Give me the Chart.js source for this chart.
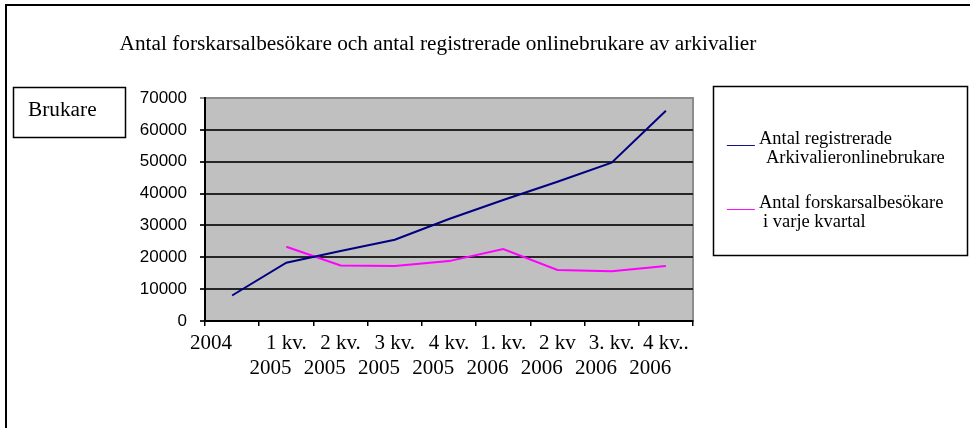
<!DOCTYPE html>
<html>
<head>
<meta charset="utf-8">
<script src="https://cdn.jsdelivr.net/npm/chart.js@4.4.1/dist/chart.umd.min.js"></script>
<style>
  html, body { margin: 0; padding: 0; background: #fff; }
  #wrap { width: 970px; height: 428px; }
</style>
</head>
<body>
<div id="wrap"><canvas id="chart" width="970" height="428"></canvas></div>
<script>
const quarters = ["2004", "1 kv.", "2 kv.", "3 kv.", "4 kv.", "1. kv.", "2 kv", "3. kv.", "4 kv.."];
const years = ["", "2005", "2005", "2005", "2005", "2006", "2006", "2006", "2006"];
const onlineUsers = [8000, 18300, 22000, 25500, 32000, 38000, 43700, 49700, 66000];
const visitors = [null, 23300, 17400, 17300, 18800, 22600, 16000, 15600, 17300];
const yTicks = [0, 10000, 20000, 30000, 40000, 50000, 60000, 70000];

const titleText = "Antal forskarsalbesökare och antal registrerade onlinebrukare av arkivalier";
const axisTitle = "Brukare";
const onlineLegend = ["Antal registrerade", "Arkivalieronlinebrukare"];
const visitorLegend = ["Antal forskarsalbesökare", "i varje kvartal"];

const SERIF = "'Liberation Serif', 'Times New Roman', serif";
const SANS = "'Liberation Sans', Arial, sans-serif";

// page frame, title, "Brukare" box, plot background and the legend box
const decor = {
  id: "decor",
  beforeDraw(chart) {
    const { ctx, chartArea: a } = chart;
    ctx.save();
    ctx.fillStyle = "#c0c0c0";
    ctx.fillRect(a.left, a.top, a.right - a.left, a.bottom - a.top);
    ctx.strokeStyle = "#8c8c8c";
    ctx.lineWidth = 2;
    ctx.strokeRect(a.left, a.top, a.right - a.left, a.bottom - a.top);

    ctx.strokeStyle = "#000";
    ctx.lineWidth = 2;
    ctx.beginPath();
    ctx.moveTo(6, 428);
    ctx.lineTo(6, 5);
    ctx.lineTo(970, 5);
    ctx.stroke();

    ctx.fillStyle = "#000";
    ctx.font = "21.3px " + SERIF;
    ctx.textAlign = "center";
    ctx.textBaseline = "middle";
    ctx.fillText(titleText, 438, 44);

    ctx.lineWidth = 1.5;
    ctx.strokeRect(13.5, 87.5, 112, 50);
    ctx.textAlign = "left";
    ctx.fillText(axisTitle, 28, 110);

    ctx.strokeRect(713.5, 86.5, 254, 169);
    ctx.font = "18.5px " + SERIF;
    ctx.textBaseline = "alphabetic";
    const rows = [144, 208];
    chart.data.datasets.forEach((ds, i) => {
      const y = rows[i];
      ctx.fillStyle = ds.borderColor;
      ctx.fillText("___", 727, y);
      ctx.fillStyle = "#000";
      ctx.fillText(ds.legendLines[0], 759, y);
      ctx.fillText(ds.legendLines[1], i === 0 ? 766 : 763, y + 19);
    });
    ctx.restore();
  }
};

new Chart(document.getElementById("chart"), {
  type: "line",
  data: {
    labels: quarters.map((q, i) => (years[i] ? [q, years[i]] : [q])),
    datasets: [
      {
        label: onlineLegend.join(" "),
        legendLines: onlineLegend,
        data: onlineUsers,
        borderColor: "#000080",
        borderWidth: 2,
        pointRadius: 0,
        tension: 0
      },
      {
        label: visitorLegend.join(" "),
        legendLines: visitorLegend,
        data: visitors,
        borderColor: "#ff00ff",
        borderWidth: 2,
        pointRadius: 0,
        tension: 0
      }
    ]
  },
  options: {
    responsive: false,
    animation: false,
    layout: { padding: { top: 98, right: 277, bottom: 47, left: 0 } },
    plugins: { legend: { display: false }, title: { display: false }, tooltip: { enabled: false } },
    scales: {
      x: {
        offset: true,
        afterFit: (s) => { s.height = 60; },
        grid: { offset: true, drawOnChartArea: false, drawTicks: true, tickLength: 5, color: "#000", lineWidth: 1.5 },
        border: { color: "#000", width: 2 },
        ticks: {
          autoSkip: false,
          maxRotation: 0,
          minRotation: 0,
          padding: 5,
          color: "#000",
          font: { family: SERIF, size: 21, lineHeight: 1.2 },
          // Excel left-shifts the year line a bit, keep that look
          callback: (v, i) => (years[i] ? [quarters[i], years[i] + "      "] : quarters[i] + "        ")
        }
      },
      y: {
        min: 0,
        max: 70000,
        afterFit: (s) => { s.width = 205; },
        afterBuildTicks: (s) => { s.ticks = yTicks.map((v) => ({ value: v })); },
        grid: {
          drawTicks: true,
          tickLength: 5,
          lineWidth: 2,
          color: (c) => (c.tick && c.tick.value === 70000 ? "#8c8c8c" : "#262626")
        },
        border: { color: "#000", width: 2 },
        ticks: {
          padding: 13,
          color: "#000",
          font: { family: SANS, size: 17 },
          callback: (v) => String(v)
        }
      }
    }
  },
  plugins: [decor]
});
</script>
</body>
</html>
